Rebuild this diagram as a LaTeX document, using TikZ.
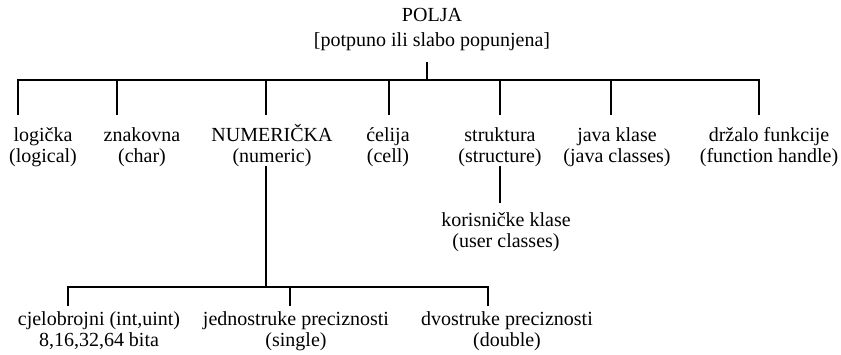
\documentclass[tikz,border=0pt]{standalone}
\usepackage{fontspec}
\setmainfont{Liberation Serif}
\begin{document}
\begin{tikzpicture}[x=1pt, y=-1pt,
  lbl/.style={inner sep=0pt, anchor=base, align=center,
              font=\fontsize{20}{21.5}\selectfont},
  wire/.style={line width=1.6pt, line cap=rect}]
\useasboundingbox (0,0) rectangle (841,354);

% root (the base anchor sits on the last line's baseline)
\node[lbl] (polja) at (432,46) {POLJA\\[3.5pt]{[}potpuno ili slabo popunjena{]}};

% first level
\node[lbl] (logical)   at (43,162.5)  {logička\\(logical)};
\node[lbl] (char)      at (142,162.5) {znakovna\\(char)};
\node[lbl] (numeric)   at (272,162.5) {NUMERIČKA\\(numeric)};
\node[lbl] (cell)      at (388,162.5) {ćelija\\(cell)};
\node[lbl] (structure) at (500,162.5) {struktura\\(structure)};
\node[lbl] (java)      at (617,162.5) {java klase\\(java classes)};
\node[lbl] (handle)    at (769,162.5) {držalo funkcije\\(function handle)};

% below structure
\node[lbl] (user) at (506,247.5) {korisničke klase\\(user classes)};

% numeric kinds
\node[lbl] (int)    at (99,346.5)  {cjelobrojni (int,uint)\\8,16,32,64 bita};
\node[lbl] (single) at (296,346.5) {jednostruke preciznosti\\(single)};
\node[lbl] (double) at (507,346.5) {dvostruke preciznosti\\(double)};

% junction points of the tree
\coordinate (rootstem) at (427,63);
\coordinate (hub)      at (427,80);
\coordinate (b1) at (18,80);   \coordinate (e1) at (18,114);
\coordinate (b2) at (117,80);  \coordinate (e2) at (117,114);
\coordinate (b3) at (266,80);  \coordinate (e3) at (266,114);
\coordinate (b4) at (389,80);  \coordinate (e4) at (389,114);
\coordinate (b5) at (500,80);  \coordinate (e5) at (500,114);
\coordinate (b6) at (611,80);  \coordinate (e6) at (611,114);
\coordinate (b7) at (759,80);  \coordinate (e7) at (759,114);

\coordinate (sstart) at (500,167); \coordinate (send) at (500,202);
\coordinate (nstart) at (266,167); \coordinate (nhub) at (266,287);
\coordinate (c1) at (68,287);  \coordinate (f1) at (68,305);
\coordinate (c2) at (290,287); \coordinate (f2) at (290,305);
\coordinate (c3) at (488,287); \coordinate (f3) at (488,305);

% root bracket
\draw[wire] (rootstem) -- (hub);
\draw[wire] (e1) -- (b1) -- (b7) -- (e7);
\foreach \i in {2,...,6} \draw[wire] (b\i) -- (e\i);

% structure -> user classes
\draw[wire] (sstart) -- (send);

% numeric bracket
\draw[wire] (nstart) -- (nhub);
\draw[wire] (f1) -- (c1) -- (c3) -- (f3);
\draw[wire] (c2) -- (f2);
\end{tikzpicture}
\end{document}
